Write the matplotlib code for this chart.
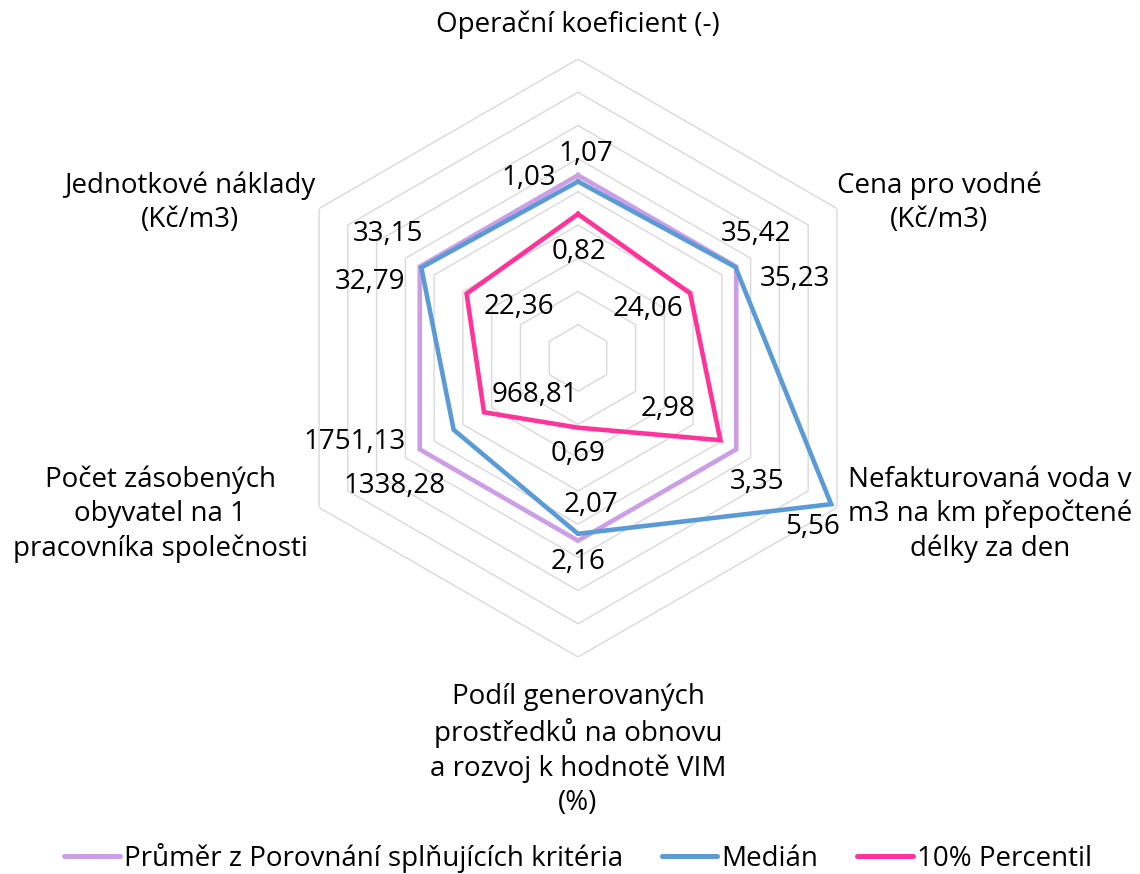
import numpy as np
import matplotlib
matplotlib.use("Agg")
import matplotlib.pyplot as plt
from matplotlib.lines import Line2D

plt.rcParams['font.family'] = ['Open Sans', 'DejaVu Sans']

categories = [
    "Operační koeficient (-)",
    "Cena pro vodné\n(Kč/m3)",
    "Nefakturovaná voda v\nm3 na km přepočtené\ndélky za den",
    "Podíl generovaných\nprostředků na obnovu\na rozvoj k hodnotě VIM\n(%)",
    "Počet zásobených\nobyvatel na 1\npracovníka společnosti",
    "Jednotkové náklady\n(Kč/m3)",
]
series_names = ["Průměr z Porovnání splňujících kritéria", "Medián", "10% Percentil"]
prumer = [1.07, 35.42, 3.35, 2.16, 1751.13, 33.15]
median = [1.03, 35.23, 5.56, 2.07, 1338.28, 32.79]
perc10 = [0.82, 24.06, 2.98, 0.69, 968.81, 22.36]
colors = ["#CC9EE6", "#5B9BD5", "#FF3399"]

# label offsets (pixels) relative to each data point
label_offsets = [
    [(8, 21), (20, 33), (21, -33), (0, -21), (-65, 7), (-32, 33)],
    [(-49, 3), (60, -12), (-19, -23), (13, 29), (-59, -56), (-51, -14)],
    [(1, -38), (-42, -16), (-52, 31), (0, -26), (51, 17), (52, -13)],
]
cat_offsets = [(0, 34), (102, 6), (153, -7), (0, -93), (-159, -7), (-129, 6)]

W, H = 1140, 874
fig = plt.figure(figsize=(W / 100, H / 100), dpi=100)
cx, cy, R = 578, 358, 299
ax = fig.add_axes([(cx - R) / W, (H - cy - R) / H, 2 * R / W, 2 * R / H], projection='polar')
ax.set_theta_zero_location('N')
ax.set_theta_direction(-1)
rmin, rmax = -0.1, 1.7
ax.set_ylim(rmin, rmax)
ax.grid(False)
ax.set_xticks([])
ax.set_yticks([])
ax.spines['polar'].set_visible(False)
ax.patch.set_visible(False)

n = len(categories)
theta = np.arange(n) * 2 * np.pi / n
theta_c = np.append(theta, theta[0])

for lvl in np.arange(rmin + 0.2, rmax + 0.001, 0.2):
    ax.plot(theta_c, [lvl] * (n + 1), color="#D9D9D9", lw=1.0, zorder=1)

base = np.array(prumer)
all_series = [prumer, median, perc10]
for k, (vals, col) in enumerate(zip(all_series, colors)):
    norm = np.array(vals) / base
    ax.plot(theta_c, np.append(norm, norm[0]), color=col, lw=3.3,
            solid_joinstyle='miter', zorder=3 + k, clip_on=False)
    for i in range(n):
        txt = f"{vals[i]:.2f}".replace('.', ',')
        ax.annotate(txt, xy=(theta[i], norm[i]), xytext=label_offsets[k][i],
                    textcoords='offset pixels', ha='center', va='center',
                    fontsize=20, color='black', annotation_clip=False, zorder=10)

for i in range(n):
    ax.annotate(categories[i], xy=(theta[i], rmax), xytext=cat_offsets[i],
                textcoords='offset pixels', ha='center', va='center',
                fontsize=20, color='black', linespacing=1.3, annotation_clip=False)

handles = [Line2D([0], [0], color=c, lw=3.6, solid_capstyle='round') for c in colors]
fig.legend(handles, series_names, loc='center', bbox_to_anchor=(578 / W, 1 - 858 / H),
           ncol=3, frameon=False, fontsize=20, handlelength=2.0, handletextpad=0.15,
           columnspacing=1.4, borderaxespad=0)

fig.savefig("out.png", dpi=100)
